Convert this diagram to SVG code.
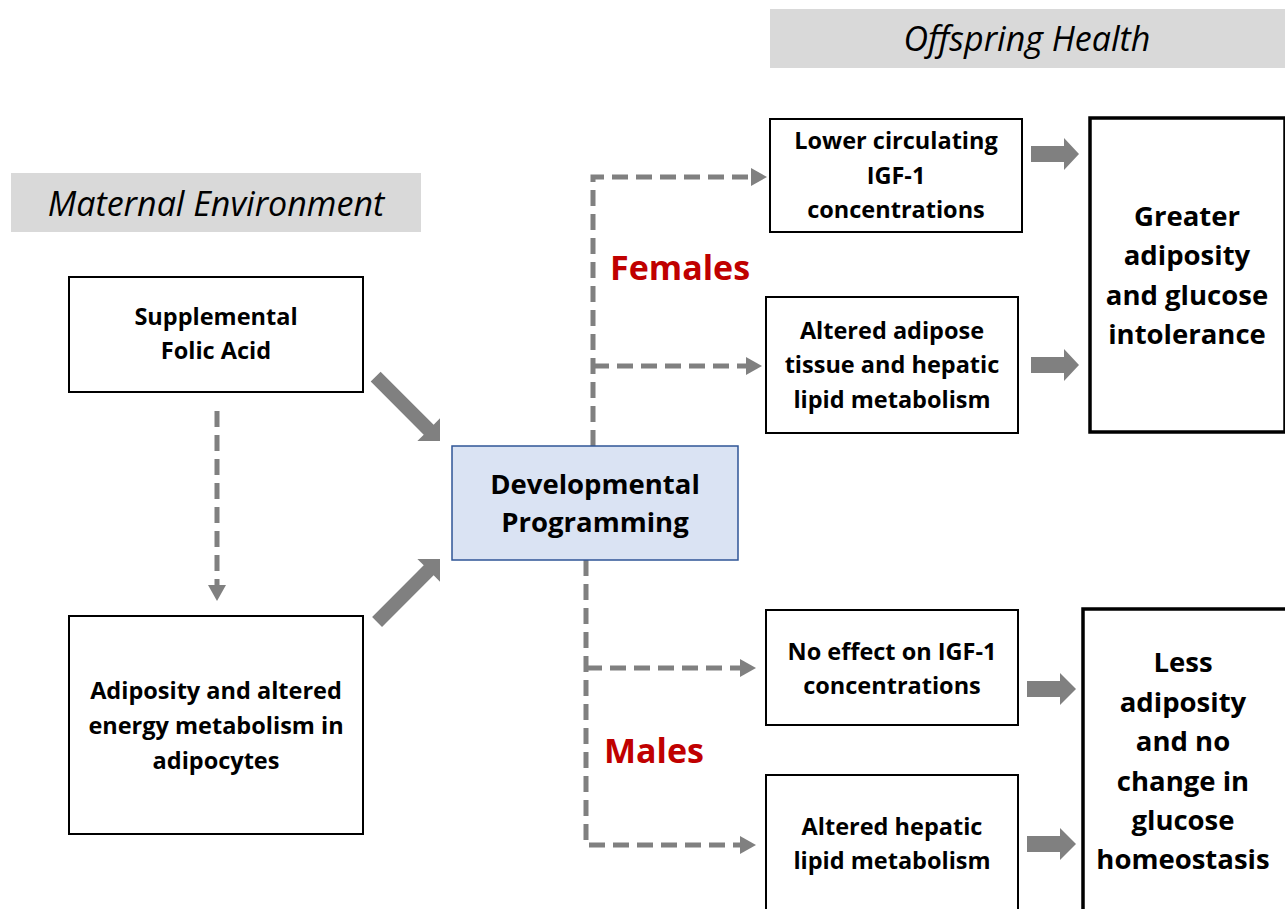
<svg xmlns="http://www.w3.org/2000/svg" width="1285" height="909" viewBox="0 0 1285 909">
<defs>
<style>
.box{fill:#fff;stroke:#000;stroke-width:2}
.thick{fill:#fff;stroke:#000;stroke-width:3.5}
.t{font-family:"Open Sans","Liberation Sans",sans-serif;font-weight:bold;font-size:23.5px;fill:#000;text-anchor:middle}
.big{font-size:27.5px}
.dp{font-size:27.5px}
.ban{fill:#d9d9d9}
.bt{font-family:"Open Sans","Liberation Sans",sans-serif;font-style:italic;font-size:34px;fill:#000;text-anchor:middle}
.sex{font-family:"Open Sans","Liberation Sans",sans-serif;font-weight:bold;font-size:34px;fill:#c00000}
.dash{fill:none;stroke:#808080;stroke-width:5;stroke-dasharray:16 8}
.blk{fill:#808080}
</style>
<marker id="ah" markerUnits="userSpaceOnUse" markerWidth="16" markerHeight="18" refX="1" refY="9" orient="auto">
<path d="M0,0 L16,9 L0,18 Z" fill="#808080"/>
</marker>
</defs>
<rect width="1285" height="909" fill="#fff"/>
<g id="banner-offspring">
<rect class="ban" x="770" y="9" width="515" height="59"/>
<text class="bt" x="1027" y="51">Offspring Health</text>
</g>
<g id="banner-maternal">
<rect class="ban" x="11" y="173" width="410" height="59"/>
<text class="bt" x="216" y="216">Maternal Environment</text>
</g>
<g id="connectors">
<path class="dash" d="M593,446 V177 H752" marker-end="url(#ah)"/>
<path class="dash" d="M593,366 H747" marker-end="url(#ah)"/>
<path class="dash" d="M586,560 V845 H741" marker-end="url(#ah)"/>
<path class="dash" d="M586,668 H741" marker-end="url(#ah)"/>
<path class="dash" d="M217,411 V586" marker-end="url(#ah)"/>
<path class="blk" transform="translate(440,441) rotate(45)" d="M-91,-7 L-16,-7 L-16,-16 L0,0 L-16,16 L-16,7 L-91,7 Z"/>
<path class="blk" transform="translate(440,559) rotate(-45)" d="M-89,-7 L-16,-7 L-16,-16 L0,0 L-16,16 L-16,7 L-89,7 Z"/>
<path class="blk" d="M1031,146 H1064 V138 L1079,154 L1064,170 V162 H1031 Z"/>
<path class="blk" d="M1031,357 H1064 V349 L1079,365 L1064,381 V373 H1031 Z"/>
<path class="blk" d="M1027,681 H1060 V673 L1076,689 L1060,705 V697 H1027 Z"/>
<path class="blk" d="M1027,836 H1060 V828 L1076,844 L1060,860 V852 H1027 Z"/>
</g>
<g id="folic">
<rect class="box" x="69" y="277" width="294" height="115"/>
<text class="t" x="216" y="325">Supplemental</text>
<text class="t" x="216" y="359">Folic Acid</text>
</g>
<g id="adiposity-maternal">
<rect class="box" x="69" y="616" width="294" height="218"/>
<text class="t" x="216" y="699">Adiposity and altered</text>
<text class="t" x="216" y="734">energy metabolism in</text>
<text class="t" x="216" y="769">adipocytes</text>
</g>
<g id="devprog">
<rect x="452" y="446" width="286" height="114" fill="#dae3f3" stroke="#2f5597" stroke-width="1.5"/>
<text class="t dp" x="595" y="494">Developmental</text>
<text class="t dp" x="595" y="532">Programming</text>
</g>
<g id="females-label"><text class="sex" x="610" y="280">Females</text></g>
<g id="males-label"><text class="sex" x="604" y="763">Males</text></g>
<g id="igf-lower">
<rect class="box" x="770" y="119" width="252" height="113"/>
<text class="t" x="896" y="149">Lower circulating</text>
<text class="t" x="896" y="184">IGF-1</text>
<text class="t" x="896" y="218">concentrations</text>
</g>
<g id="altered-adipose">
<rect class="box" x="766" y="297" width="252" height="136"/>
<text class="t" x="892" y="339">Altered adipose</text>
<text class="t" x="892" y="373">tissue and hepatic</text>
<text class="t" x="892" y="408">lipid metabolism</text>
</g>
<g id="greater">
<rect class="thick" x="1090" y="118" width="195" height="314"/>
<text class="t big" x="1187" y="226">Greater</text>
<text class="t big" x="1187" y="265">adiposity</text>
<text class="t big" x="1187" y="305">and glucose</text>
<text class="t big" x="1187" y="344">intolerance</text>
</g>
<g id="igf-none">
<rect class="box" x="766" y="610" width="252" height="115"/>
<text class="t" x="892" y="660">No effect on IGF-1</text>
<text class="t" x="892" y="694">concentrations</text>
</g>
<g id="altered-hepatic">
<rect class="box" x="766" y="775" width="252" height="140"/>
<text class="t" x="892" y="835">Altered hepatic</text>
<text class="t" x="892" y="869">lipid metabolism</text>
</g>
<g id="less">
<rect class="thick" x="1083" y="609" width="205" height="305"/>
<text class="t big" x="1183" y="672">Less</text>
<text class="t big" x="1183" y="712">adiposity</text>
<text class="t big" x="1183" y="751">and no</text>
<text class="t big" x="1183" y="791">change in</text>
<text class="t big" x="1183" y="830">glucose</text>
<text class="t big" x="1183" y="869">homeostasis</text>
</g>
</svg>
